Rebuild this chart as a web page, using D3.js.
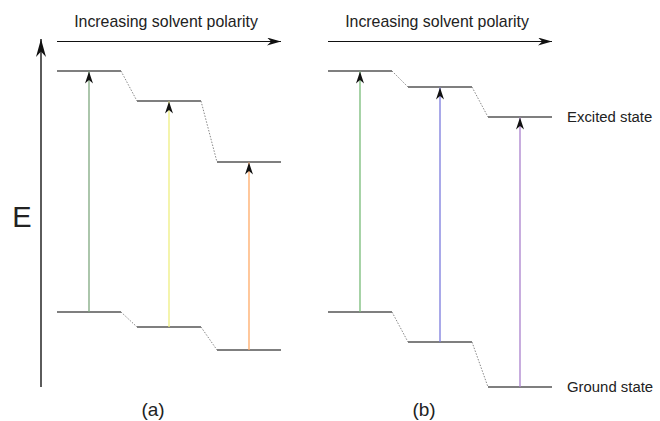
<!DOCTYPE html>
<html>
<head>
<meta charset="utf-8">
<script src="https://cdn.jsdelivr.net/npm/d3@7"></script>
<style>
    body { margin: 0; background: #ffffff; }
    text { font-family: "Liberation Sans", Arial, sans-serif; fill: #222; }
</style>
</head>
<body>
<svg id="chart" width="660" height="421"></svg>
<script>
// three solvents, least to most polar
let solvents = ["s1", "s2", "s3"];
// energy of each level (arbitrary units, 0 = lowest ground state)
let excitedA = [316, 286, 225];
let groundA = [75, 60, 37];
let excitedB = [316, 300, 270];
let groundB = [75, 45, 0];
let arrowColorsA = ["#7fa87f", "#eeee80", "#ffaa66"];
let arrowColorsB = ["#77bb77", "#7b7bdd", "#aa80cc"];
let panelLabels = ["(a)", "(b)"];
let axisTitle = "Increasing solvent polarity";
let stateLabels = ["Excited state", "Ground state"];

let svg = d3.select("svg#chart");

let energyScale = d3.scaleLinear().domain([0, 348]).range([387, 39]);

let panels = [
    { x: d3.scaleBand().domain(solvents).range([57, 281]).paddingInner(0.2), excited: excitedA, ground: groundA, colors: arrowColorsA, label: panelLabels[0] },
    { x: d3.scaleBand().domain(solvents).range([328, 552]).paddingInner(0.2), excited: excitedB, ground: groundB, colors: arrowColorsB, label: panelLabels[1] }
];

let defs = svg.append("defs");
// notched arrow heads, sized in px
function addHead(id, len, wid) {
    defs.append("marker")
        .attr("id", id)
        .attr("viewBox", "0 0 10 10")
        .attr("refX", 10).attr("refY", 5)
        .attr("markerWidth", len).attr("markerHeight", wid)
        .attr("markerUnits", "userSpaceOnUse")
        .attr("orient", "auto")
        .attr("preserveAspectRatio", "none")
        .append("path").attr("d", "M0,0 L10,5 L0,10 L3,5 z").attr("fill", "#111");
}
addHead("head", 12, 8);
addHead("tophead", 14, 8);
addHead("axhead", 18, 10);

// energy axis
svg.append("line")
    .attr("x1", 41).attr("x2", 41)
    .attr("y1", energyScale(0)).attr("y2", energyScale(348))
    .attr("stroke", "#333").attr("stroke-width", 1.6)
    .attr("marker-end", "url(#axhead)");
svg.append("text")
    .attr("x", 22).attr("y", 227)
    .style("text-anchor", "middle")
    .style("font-size", "29px")
    .text("E");

panels.forEach(function (p, pi) {
    let g = svg.append("g");
    let r = p.x.range();

    // polarity arrow + title
    g.append("line")
        .attr("x1", r[0]).attr("x2", r[1])
        .attr("y1", 41.5).attr("y2", 41.5)
        .attr("stroke", "#111").attr("stroke-width", 1.1)
        .attr("marker-end", "url(#tophead)");
    g.append("text")
        .attr("x", (r[0] + r[1]) / 2 - 3).attr("y", 27)
        .style("text-anchor", "middle")
        .style("font-size", "15.9px")
        .text(axisTitle);

    ["excited", "ground"].forEach(function (kind) {
        let vals = p[kind];
        // level lines
        g.selectAll("line." + kind)
            .data(solvents)
            .enter().append("line")
            .attr("class", kind)
            .attr("x1", d => p.x(d))
            .attr("x2", d => p.x(d) + p.x.bandwidth())
            .attr("y1", (d, i) => energyScale(vals[i]))
            .attr("y2", (d, i) => energyScale(vals[i]))
            .attr("stroke", "#555").attr("stroke-width", 1.5);
        // dotted connectors between neighbouring levels
        g.selectAll("line.conn" + kind)
            .data(solvents.slice(1))
            .enter().append("line")
            .attr("class", "conn" + kind)
            .attr("x1", (d, i) => p.x(solvents[i]) + p.x.bandwidth())
            .attr("x2", d => p.x(d))
            .attr("y1", (d, i) => energyScale(vals[i]))
            .attr("y2", (d, i) => energyScale(vals[i + 1]))
            .attr("stroke", "#888").attr("stroke-width", 1)
            .attr("stroke-dasharray", "1.5,1.5");
    });

    // absorption arrows
    g.selectAll("line.trans")
        .data(solvents)
        .enter().append("line")
        .attr("class", "trans")
        .attr("x1", d => p.x(d) + p.x.bandwidth() / 2)
        .attr("x2", d => p.x(d) + p.x.bandwidth() / 2)
        .attr("y1", (d, i) => energyScale(p.ground[i]))
        .attr("y2", (d, i) => energyScale(p.excited[i]) + 0.5)
        .attr("stroke", (d, i) => p.colors[i]).attr("stroke-width", 1.3)
        .attr("marker-end", "url(#head)");

    g.append("text")
        .attr("x", p.x(solvents[1]) + p.x.bandwidth() / 2 - 16).attr("y", 416)
        .style("text-anchor", "middle")
        .style("font-size", "19px")
        .text(p.label);
});

// state labels on the right of panel (b)
svg.append("text")
    .attr("x", 567).attr("y", energyScale(excitedB[2]) + 5)
    .style("font-size", "14.9px")
    .text(stateLabels[0]);
svg.append("text")
    .attr("x", 567).attr("y", energyScale(groundB[2]) + 5)
    .style("font-size", "14.9px")
    .text(stateLabels[1]);
</script>
</body>
</html>
